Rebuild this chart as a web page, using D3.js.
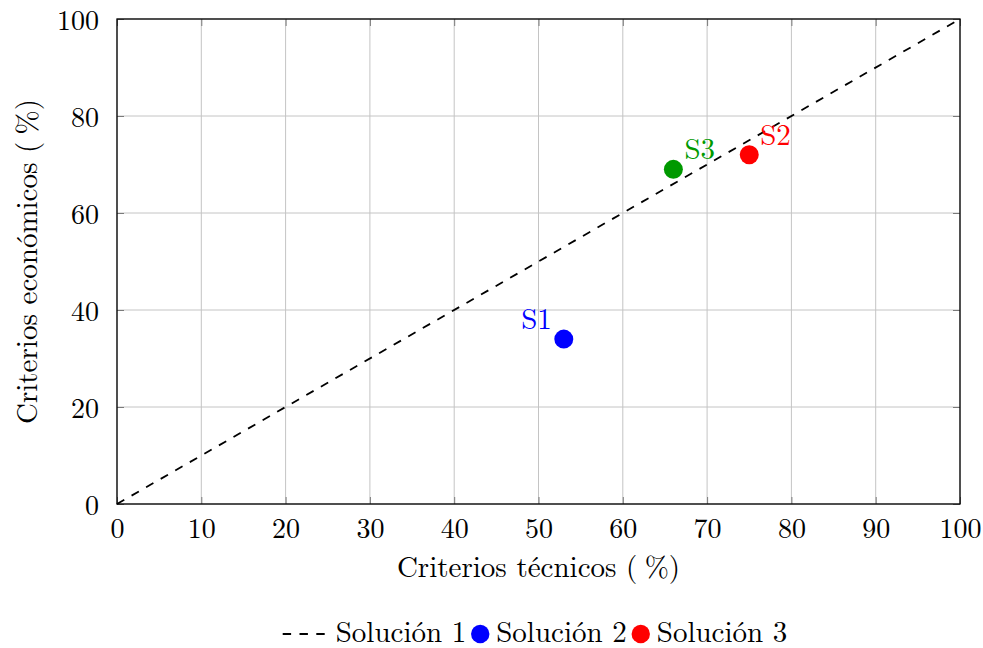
<!DOCTYPE html>
<html>
<head>
<meta charset="utf-8">
<script src="https://cdn.jsdelivr.net/npm/d3@7"></script>
<style>
  html, body { margin: 0; padding: 0; background: #fff; }
  svg { display: block; }
</style>
</head>
<body>
<svg id="chart" width="983" height="648"></svg>
<script>
// Reference line (equal technical and economic weight)
const lineX = [0, 100];
const lineY = [0, 100];

// Evaluated solutions
const pointNames = ["S1", "S2", "S3"];
const pointX = [53, 75, 66];
const pointY = [34, 72, 69];
const pointColors = ["#0000ff", "#ff0000", "#009900"];

// Axis ticks
const xTicks = [0, 10, 20, 30, 40, 50, 60, 70, 80, 90, 100];
const yTicks = [0, 20, 40, 60, 80, 100];

// Legend entries
const legendLabels = ["Solución 1", "Solución 2", "Solución 3"];
const legendKinds = ["line", "dot", "dot"];
const legendColors = ["#000000", "#0000ff", "#ff0000"];

const FONT = "'Latin Modern Roman', 'Liberation Serif', serif";
const FS = "28px";
const FS_LABEL = "29px";

const plotLeft = 117, plotRight = 960, plotTop = 19, plotBottom = 504;
const svg = d3.select("#chart");

const x = d3.scaleLinear().domain([0, 100]).range([plotLeft, plotRight]);
const y = d3.scaleLinear().domain([0, 100]).range([plotBottom, plotTop]);

// Grid
const grid = svg.append("g").attr("stroke", "#c4c4c4").attr("stroke-width", 1);
grid.selectAll("line.gx").data(xTicks).join("line")
  .attr("class", "gx")
  .attr("x1", d => x(d)).attr("x2", d => x(d))
  .attr("y1", plotTop).attr("y2", plotBottom);
grid.selectAll("line.gy").data(yTicks).join("line")
  .attr("class", "gy")
  .attr("x1", plotLeft).attr("x2", plotRight)
  .attr("y1", d => y(d)).attr("y2", d => y(d));

// Axes with inward ticks on all four sides
const tickLen = 7;
const xAxisB = d3.axisBottom(x).tickValues(xTicks).tickSize(-tickLen).tickPadding(tickLen + 6).tickFormat(d3.format("d"));
const xAxisT = d3.axisTop(x).tickValues(xTicks).tickSize(-tickLen).tickFormat("");
const yAxisL = d3.axisLeft(y).tickValues(yTicks).tickSize(-tickLen).tickPadding(tickLen + 11).tickFormat(d3.format("d"));
const yAxisR = d3.axisRight(y).tickValues(yTicks).tickSize(-tickLen).tickFormat("");

function styleAxis(g) {
  g.attr("font-family", null).attr("font-size", null);
  g.select(".domain").remove();
  g.selectAll(".tick line").attr("stroke", "#7a7a7a").attr("stroke-width", 1);
  g.selectAll(".tick text").style("font-family", FONT).style("font-size", FS).attr("fill", "#000");
}

svg.append("g").attr("transform", `translate(0,${plotBottom})`).call(xAxisB).call(styleAxis)
  .selectAll(".tick text").attr("dy", "0.75em");
svg.append("g").attr("transform", `translate(0,${plotTop})`).call(xAxisT).call(styleAxis);
svg.append("g").attr("transform", `translate(${plotLeft},0)`).call(yAxisL).call(styleAxis)
  .selectAll(".tick text").attr("dy", "0.36em");
svg.append("g").attr("transform", `translate(${plotRight},0)`).call(yAxisR).call(styleAxis);

// Frame
svg.append("rect")
  .attr("x", plotLeft).attr("y", plotTop)
  .attr("width", plotRight - plotLeft).attr("height", plotBottom - plotTop)
  .attr("fill", "none").attr("stroke", "#000").attr("stroke-width", 1.3);

// Dashed diagonal
const line = d3.line().x(d => x(d[0])).y(d => y(d[1]));
svg.append("path")
  .datum(d3.zip(lineX, lineY))
  .attr("d", line)
  .attr("fill", "none")
  .attr("stroke", "#000")
  .attr("stroke-width", 1.8)
  .attr("stroke-dasharray", "8.4,8.4");

// Solution points
svg.append("g").selectAll("circle").data(pointNames).join("circle")
  .attr("cx", (d, i) => x(pointX[i]))
  .attr("cy", (d, i) => y(pointY[i]))
  .attr("r", 9.5)
  .attr("fill", (d, i) => pointColors[i]);

// Point labels (S1 to the upper left, the others to the upper right)
svg.append("g").selectAll("text").data(pointNames).join("text")
  .attr("x", (d, i) => x(pointX[i]) + (i === 0 ? -12 : 11))
  .attr("y", (d, i) => y(pointY[i]) - 10)
  .attr("text-anchor", (d, i) => i === 0 ? "end" : "start")
  .style("font-family", FONT).style("font-size", FS_LABEL)
  .attr("fill", (d, i) => pointColors[i])
  .text(d => d);

// Axis titles
svg.append("text")
  .attr("x", (plotLeft + plotRight) / 2).attr("y", 577)
  .attr("text-anchor", "middle")
  .style("font-family", FONT).style("font-size", FS_LABEL)
  .text("Criterios técnicos (\u2005%)");

svg.append("text")
  .attr("transform", `translate(37,${(plotTop + plotBottom) / 2}) rotate(-90)`)
  .attr("text-anchor", "middle")
  .style("font-family", FONT).style("font-size", FS_LABEL)
  .text("Criterios económicos (\u2005%)");

// Legend: entries laid out one after another, centred under the plot
const legend = svg.append("g");
const legendY = 634;
let cursor = 0;
legendLabels.forEach((label, i) => {
  const g = legend.append("g").attr("transform", `translate(${cursor},${legendY})`);
  let textX;
  if (legendKinds[i] === "line") {
    g.append("line")
      .attr("x1", 0).attr("x2", 42).attr("y1", 0).attr("y2", 0)
      .attr("stroke", legendColors[i]).attr("stroke-width", 1.8)
      .attr("stroke-dasharray", "8.4,8.4");
    textX = 53;
  } else {
    g.append("circle").attr("cx", 9).attr("cy", 0).attr("r", 9.2).attr("fill", legendColors[i]);
    textX = 25;
  }
  const t = g.append("text")
    .attr("x", textX).attr("y", 8)
    .style("font-family", FONT).style("font-size", FS_LABEL)
    .text(label);
  cursor += textX + t.node().getComputedTextLength() + 5;
});
const legendWidth = cursor - 5;
const legendLeft = 284 + (502 - legendWidth) / 2;
legend.attr("transform", `translate(${legendLeft},0)`);
</script>
</body>
</html>
